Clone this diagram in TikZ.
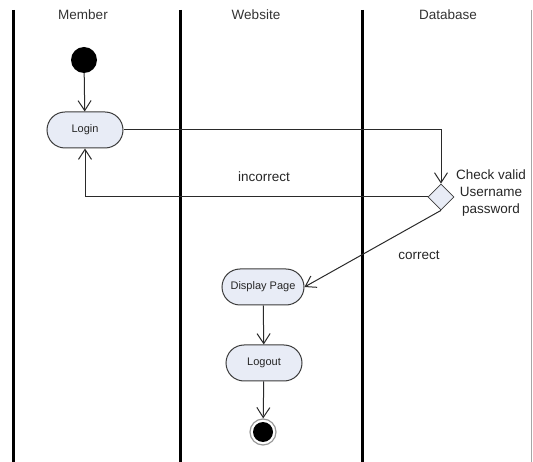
\documentclass[tikz,border=0pt]{standalone}
\usepackage{fontspec}
\setmainfont{Liberation Sans}
\usetikzlibrary{shapes.misc,shapes.geometric,arrows.meta}
\definecolor{actfill}{HTML}{E8ECF6}
\definecolor{actdraw}{HTML}{3C3C3C}
\definecolor{conn}{HTML}{2A2A2A}
\tikzset{
  lane/.style={line width=3pt,black},
  laneend/.style={line width=1pt,gray!70},
  head/.style={font=\fontsize{13.5}{15}\selectfont,text=black!80},
  lbl/.style={font=\fontsize{13.5}{17}\selectfont,text=black!85},
  act/.style={rounded rectangle,draw=actdraw,fill=actfill,line width=1pt,
    minimum height=36pt,inner sep=0pt,font=\fontsize{11}{13}\selectfont,text=black!85},
  dec/.style={diamond,draw=actdraw,fill=actfill,line width=0.8pt,
    minimum width=26pt,minimum height=26pt,inner sep=0pt,aspect=1},
  startnode/.style={circle,fill=black,minimum size=26pt,inner sep=0pt},
  endnode/.style={circle,fill=black,draw=white,line width=2pt,minimum size=20pt,inner sep=0pt,
    double=gray!80,double distance=0pt},
  flow/.style={draw=conn,line width=1pt,-{Straight Barb[length=10pt,width=13pt,line width=1pt]}},
}
\begin{document}
\begin{tikzpicture}[x=1pt,y=-1pt]
\useasboundingbox (0,0) rectangle (533,462);
% swimlanes
\draw[lane] (13,10) -- (13,462);
\draw[lane] (180,10) -- (180,462);
\draw[lane] (362,10) -- (362,462);
\draw[laneend] (531,10) -- (531,462);
\node[head] (hm) at (83,15) {Member};
\node[head] (hw) at (256,15) {Website};
\node[head] (hd) at (448,15) {Database};
% nodes
\node[startnode] (start) at (84,60) {};
\node[act,minimum width=76pt] (login) at (85,130) {Login};
\node[dec] (check) at (441,197) {};
\node[lbl,align=center] (checklbl) at (491,193) {Check valid\\Username\\password};
\node[act,minimum width=82pt] (display) at (263,287) {Display Page};
\node[act,minimum width=76pt] (logout) at (264,363) {Logout};
\node[circle,fill=white,draw=gray!80,line width=1.2pt,minimum size=26pt,inner sep=0pt] (endo) at (263,432) {};
\node[circle,fill=black,minimum size=20pt,inner sep=0pt] (endi) at (endo) {};
\coordinate (c1) at (441,130);
\coordinate (c2) at (85,197);
% flows
\draw[flow] (start) -- (login);
\draw[flow] (login.east) -- (c1) -- (check.north);
\draw[flow] (check.west) -- (c2) -- (login.south);
\node[lbl] (inc) at (264,177) {incorrect};
\draw[flow] (check.south) -- (display.east);
\node[lbl] (cor) at (419,255) {correct};
\draw[flow] (display) -- (logout);
\draw[flow] (logout) -- (endo);
\end{tikzpicture}
\end{document}
